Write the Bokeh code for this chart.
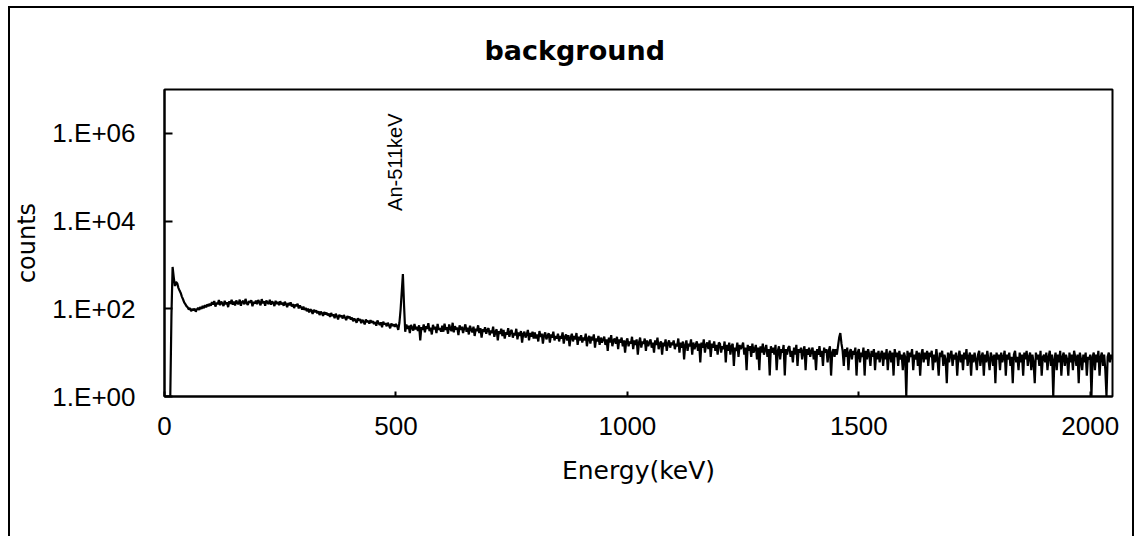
import math
from bokeh.plotting import figure
from bokeh.models import Range1d, FixedTicker, Label
from bokeh.embed import file_html
from bokeh.resources import INLINE

# ---- data, one value every 2.5 keV ----
s0000 = [1, 1, 1, 1, 1, 1, 70, 900, 520, 330, 410, 380, 300, 260, 230, 190, 165, 140, 128, 115]
s0050 = [108, 96, 104, 88, 99, 92, 101, 86, 97, 105, 94, 110, 99, 116, 103, 121, 108, 126, 114, 130]
s0100 = [118, 142, 125, 150, 112, 137, 128, 158, 121, 145, 133, 116, 152, 127, 140, 109, 148, 131, 160, 124]
s0150 = [146, 119, 155, 134, 128, 162, 117, 143, 151, 126, 168, 135, 122, 149, 138, 157, 114, 145, 131, 153]
s0200 = [127, 159, 141, 120, 166, 135, 148, 118, 154, 139, 129, 161, 124, 147, 136, 115, 152, 130, 143, 121]
s0250 = [149, 126, 138, 117, 144, 128, 109, 135, 121, 140, 113, 129, 104, 124, 116, 131, 102, 119, 108, 96]
s0300 = [112, 94, 105, 88, 101, 83, 97, 91, 76, 95, 84, 92, 79, 88, 72, 86, 80, 69, 84, 75]
s0350 = [82, 71, 78, 65, 80, 69, 74, 61, 77, 68, 57, 73, 66, 70, 60, 72, 63, 55, 68, 62]
s0400 = [66, 57, 63, 52, 60, 55, 48, 61, 54, 58, 47, 56, 51, 44, 57, 50, 53, 46, 55, 49]
s0450 = [52, 45, 50, 41, 54, 47, 43, 49, 38, 51, 44, 47, 40, 48, 42, 36, 46, 41, 44, 39]
s0500 = [45, 40, 33, 48, 95, 240, 620, 120, 30, 44, 35, 41, 28, 43, 37, 32, 45, 34, 39, 31]
s0550 = [42, 19, 38, 33, 44, 29, 40, 35, 47, 31, 37, 26, 43, 34, 39, 28, 45, 33, 36, 30]
s0600 = [41, 30, 46, 33, 38, 27, 44, 35, 31, 48, 29, 40, 34, 37, 25, 42, 33, 39, 28, 36]
s0650 = [44, 30, 37, 26, 41, 33, 29, 39, 24, 35, 31, 42, 28, 36, 22, 34, 30, 38, 27, 33]
s0700 = [36, 25, 32, 28, 39, 23, 30, 34, 19, 31, 27, 35, 24, 33, 21, 29, 26, 36, 23, 30]
s0750 = [33, 22, 28, 25, 35, 20, 29, 24, 31, 17, 27, 30, 22, 26, 33, 19, 28, 23, 30, 21]
s0800 = [29, 21, 26, 18, 31, 23, 27, 16, 25, 29, 20, 24, 28, 17, 26, 22, 30, 19, 24, 21]
s0850 = [27, 18, 24, 21, 29, 16, 23, 26, 19, 25, 14, 22, 27, 18, 24, 20, 28, 15, 23, 19]
s0900 = [25, 17, 22, 19, 27, 14, 21, 24, 16, 23, 19, 26, 13, 21, 18, 24, 15, 22, 17, 20]
s0950 = [23, 15, 20, 11, 22, 17, 25, 14, 19, 21, 16, 23, 12, 20, 17, 22, 14, 19, 10, 18]
s1000 = [21, 14, 18, 16, 23, 12, 19, 15, 20, 9, 17, 22, 13, 18, 16, 21, 11, 19, 14, 17]
s1050 = [20, 13, 17, 10, 19, 15, 22, 12, 16, 18, 9, 17, 14, 20, 11, 16, 19, 13, 17, 15]
s1100 = [19, 12, 16, 14, 21, 10, 17, 13, 18, 7, 15, 19, 11, 16, 14, 20, 9, 17, 12, 15]
s1150 = [18, 11, 16, 6, 17, 13, 20, 10, 15, 17, 12, 19, 8, 16, 13, 18, 11, 15, 9, 17]
s1200 = [16, 10, 14, 12, 18, 6, 15, 11, 17, 9, 14, 16, 5, 13, 11, 17, 8, 15, 12, 14]
s1250 = [17, 9, 13, 4, 15, 11, 14, 8, 16, 10, 12, 15, 7, 13, 4, 14, 10, 16, 9, 12]
s1300 = [15, 8, 12, 3, 14, 10, 13, 9, 15, 4, 11, 14, 7, 12, 10, 15, 3, 12, 9, 13]
s1350 = [14, 8, 11, 6, 13, 9, 15, 5, 12, 10, 13, 7, 11, 14, 4, 12, 9, 13, 8, 11]
s1400 = [13, 7, 11, 4, 12, 9, 14, 8, 11, 5, 13, 10, 12, 6, 11, 14, 3, 10, 12, 8]
s1450 = [12, 9, 14, 22, 28, 16, 11, 5, 12, 8, 13, 4, 10, 12, 7, 11, 9, 13, 3, 10]
s1500 = [12, 6, 10, 8, 13, 3, 11, 7, 12, 9, 5, 11, 8, 12, 4, 10, 7, 11, 6, 9]
s1550 = [11, 5, 10, 7, 12, 4, 9, 11, 6, 10, 3, 12, 8, 10, 5, 11, 7, 9, 4, 10]
s1600 = [8, 1, 11, 6, 10, 8, 12, 4, 9, 7, 11, 5, 10, 3, 9, 12, 6, 10, 7, 11]
s1650 = [5, 10, 8, 11, 4, 9, 6, 12, 7, 3, 10, 8, 11, 5, 9, 7, 2, 10, 6, 9]
s1700 = [11, 5, 9, 7, 10, 3, 8, 11, 6, 9, 4, 10, 7, 12, 5, 8, 10, 3, 9, 6]
s1750 = [10, 7, 4, 9, 11, 5, 8, 10, 3, 9, 6, 11, 7, 4, 10, 8, 5, 9, 2, 10]
s1800 = [7, 9, 4, 10, 6, 8, 11, 3, 9, 7, 10, 5, 8, 2, 9, 11, 6, 8, 4, 10]
s1850 = [6, 9, 3, 10, 7, 11, 5, 8, 10, 4, 9, 6, 2, 10, 7, 9, 5, 11, 3, 8]
s1900 = [9, 6, 10, 4, 8, 11, 5, 9, 1, 7, 10, 4, 9, 6, 11, 3, 8, 10, 5, 9]
s1950 = [7, 3, 10, 6, 9, 4, 11, 8, 5, 9, 2, 10, 7, 4, 9, 6, 10, 3, 8, 7]
s2000 = [9, 1, 8, 10, 4, 9, 6, 11, 3, 8, 10, 5, 9, 4, 1, 8, 10, 6, 9, 7]

counts = (s0000 + s0050 + s0100 + s0150 + s0200 + s0250 + s0300 + s0350 + s0400 + s0450
          + s0500 + s0550 + s0600 + s0650 + s0700 + s0750 + s0800 + s0850 + s0900 + s0950
          + s1000 + s1050 + s1100 + s1150 + s1200 + s1250 + s1300 + s1350 + s1400 + s1450
          + s1500 + s1550 + s1600 + s1650 + s1700 + s1750 + s1800 + s1850 + s1900 + s1950
          + s2000)
energy = [i * 2.5 for i in range(len(counts))]  # keV

x_ticks = [0, 500, 1000, 1500, 2000]
y_ticks = [1, 100, 10000, 1000000]
y_tick_labels = ["1.E+00", "1.E+02", "1.E+04", "1.E+06"]

title_text = "background"
x_label = "Energy(keV)"
y_label = "counts"
peak_label = "An-511keV"
peak_label_x = 498
peak_label_y = 17000

# ---- figure ----
p = figure(width=1126, height=530,
           x_range=Range1d(0, 2048), y_range=Range1d(1, 1e7),
           y_axis_type="log",
           output_backend="svg", toolbar_location=None,
           min_border_left=151, min_border_right=24,
           min_border_top=80, min_border_bottom=142)
p.styles = {"margin-left": "8px", "margin-top": "6px",
            "border-top": "2px solid black", "border-left": "2px solid black",
            "border-right": "2px solid black"}

p.background_fill_color = "white"
p.border_fill_color = "white"
p.outline_line_color = "black"
p.outline_line_width = 2
p.xgrid.visible = False
p.ygrid.visible = False

p.title.text = title_text
p.title.align = "left"
p.title.text_font = "DejaVu Sans"
p.title.text_font_style = "bold"
p.title.text_font_size = "27px"
p.title.text_color = "black"
p.title.offset = 320
p.title.standoff = 48

tick_font = "Liberation Sans"
for ax in (p.xaxis[0], p.yaxis[0]):
    ax.axis_line_color = "black"
    ax.axis_line_width = 2
    ax.major_tick_line_color = "black"
    ax.major_tick_line_width = 2
    ax.major_tick_out = 0
    ax.minor_tick_line_color = None
    ax.major_label_text_font = tick_font
    ax.major_label_text_font_size = "26px"
    ax.major_label_text_color = "black"
    ax.axis_label_text_font = "DejaVu Sans"
    ax.axis_label_text_font_style = "normal"
    ax.axis_label_text_color = "black"

p.xaxis.ticker = FixedTicker(ticks=x_ticks)
p.xaxis.major_tick_in = 5
p.xaxis.major_label_standoff = 20
p.xaxis.axis_label = x_label
p.xaxis.axis_label_text_font_size = "25px"
p.xaxis.axis_label_standoff = 18

p.yaxis.ticker = FixedTicker(ticks=y_ticks)
p.yaxis.major_label_overrides = dict(zip(y_ticks, y_tick_labels))
p.yaxis.major_tick_in = 8
p.yaxis.major_label_standoff = 29
p.yaxis.axis_label = y_label
p.yaxis.axis_label_text_font_size = "24px"
p.yaxis.axis_label_standoff = 8

p.line(energy, counts, line_color="black", line_width=2.2)

p.add_layout(Label(x=peak_label_x, y=peak_label_y, text=peak_label,
                   angle=math.pi / 2, text_align="left", text_baseline="middle",
                   text_font="Liberation Sans", text_font_size="20px",
                   text_color="black"))

open("out.html", "w").write(file_html(p, INLINE))
